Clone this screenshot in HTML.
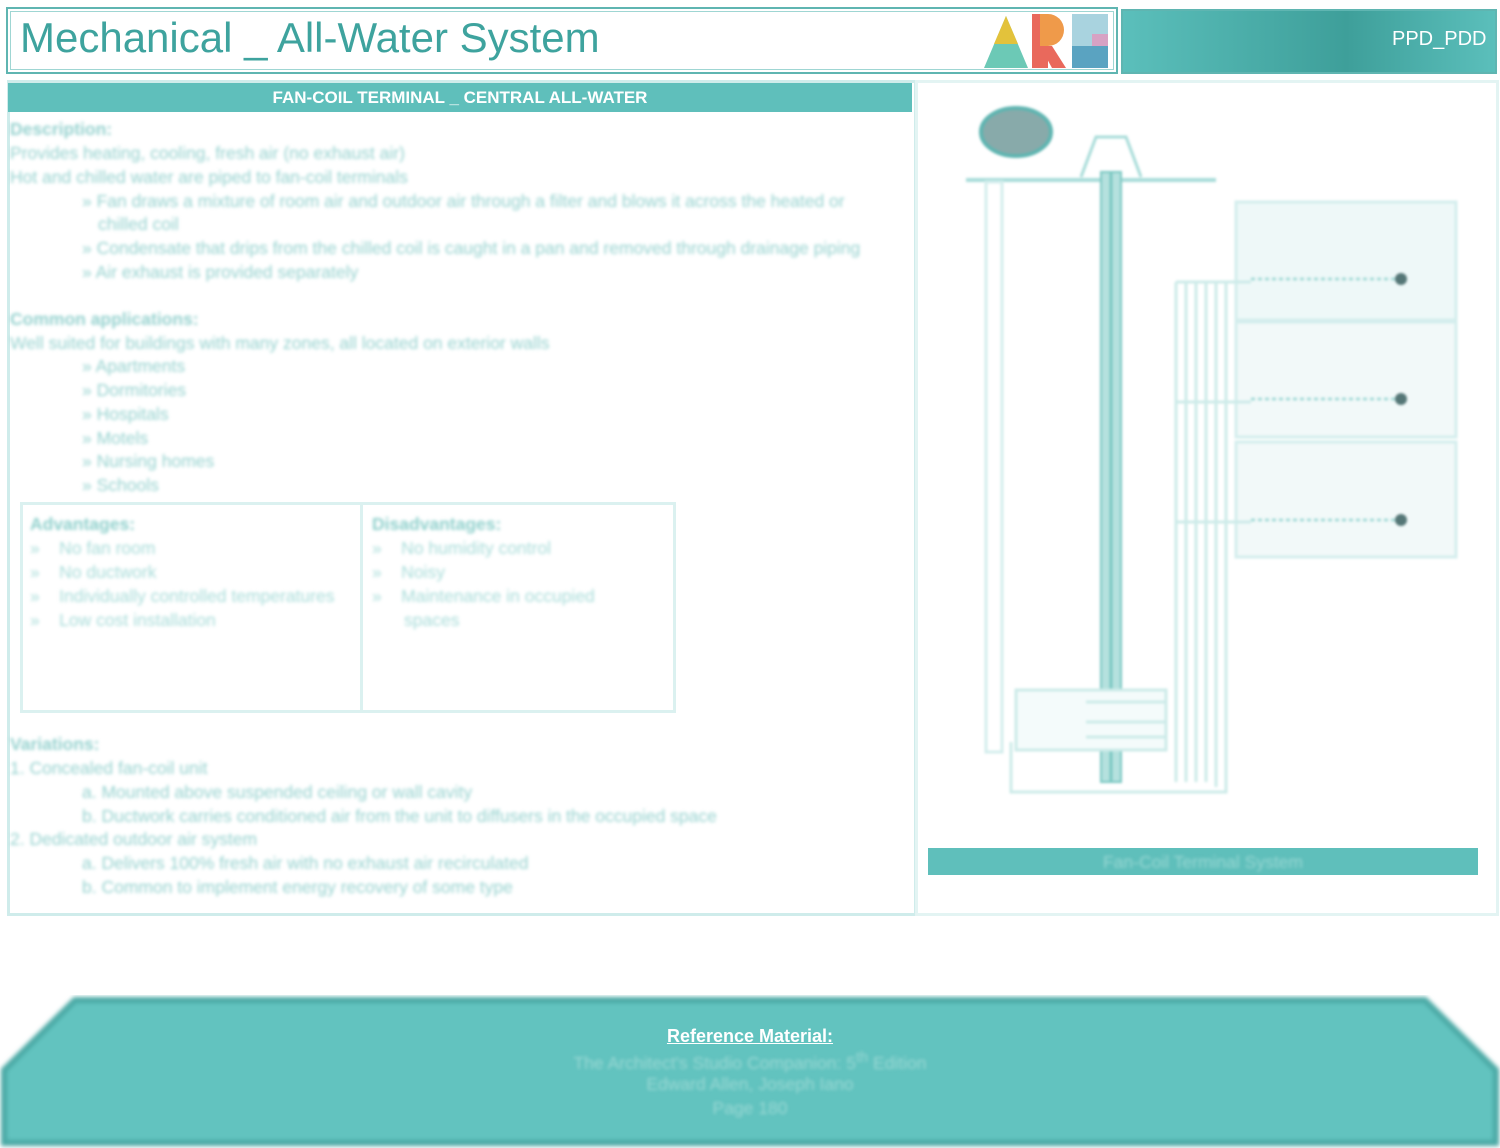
<!DOCTYPE html>
<html><head><meta charset="utf-8"><style>
body{margin:0;width:1500px;height:1148px;background:#fff;position:relative;overflow:hidden;font-family:"Liberation Sans",sans-serif}
.a{position:absolute}
.t{color:#96d2cf;font-size:17.5px;filter:blur(1.6px);position:absolute;white-space:nowrap}
.b{font-weight:bold}
</style></head><body>
<div class="a" style="left:6px;top:7px;width:1108px;height:63px;border:2px solid #5fb5b1;box-shadow:inset 0 0 0 2px #fff,inset 0 0 0 3px #9fd6d3"></div>
<div class="a" style="left:20px;top:14px;font-size:42px;color:#3ea39e">Mechanical _ All-Water System</div>
<svg class="a" style="left:980px;top:10px" width="135" height="60">
<polygon points="4,58 26,6 48,58" fill="#6cc9b6"/><polygon points="14,34 26,6 38,34" fill="#e3c23b"/>
<rect x="52" y="4" width="16" height="54" fill="#e9695c"/><path d="M60,4 h8 a16,16 0 0 1 0,32 h-8z" fill="#ef9a4a"/><polygon points="60,36 72,36 86,58 72,58" fill="#e9695c"/>
<rect x="92" y="4" width="36" height="54" fill="#a9d3df"/><rect x="92" y="36" width="36" height="22" fill="#5aa3c1"/><rect x="112" y="24" width="16" height="12" fill="#d7a2c4"/>
</svg>
<div class="a" style="left:1121px;top:9px;width:372px;height:61px;background:linear-gradient(90deg,#5bbfbb,#3e9f9a 60%,#5bbfbb);border:2px solid #5fb5b1"></div>
<div class="a" style="left:1392px;top:28px;color:#fff;font-size:20px">PPD_PDD</div>

<div class="a" style="left:7px;top:80px;width:904px;height:830px;border:3px solid #cfeceb"></div>
<div class="a" style="left:8px;top:83px;width:904px;height:29px;background:#5fbfbb"></div>
<div class="a" style="left:8px;top:88px;width:904px;text-align:center;color:#fff;font-weight:bold;font-size:17px">FAN-COIL TERMINAL _ CENTRAL ALL-WATER</div>

<div class="t b" style="left:10px;top:119px">Description:</div>
<div class="t" style="left:10px;top:143px">Provides heating, cooling, fresh air (no exhaust air)</div>
<div class="t" style="left:10px;top:167px">Hot and chilled water are piped to fan-coil terminals</div>
<div class="t" style="left:82px;top:191px">» Fan draws a mixture of room air and outdoor air through a filter and blows it across the heated or</div>
<div class="t" style="left:98px;top:214px">chilled coil</div>
<div class="t" style="left:82px;top:238px">» Condensate that drips from the chilled coil is caught in a pan and removed through drainage piping</div>
<div class="t" style="left:82px;top:262px">» Air exhaust is provided separately</div>
<div class="t b" style="left:10px;top:309px">Common applications:</div>
<div class="t" style="left:10px;top:333px">Well suited for buildings with many zones, all located on exterior walls</div>
<div class="t" style="left:82px;top:356px">» Apartments</div>
<div class="t" style="left:82px;top:380px">» Dormitories</div>
<div class="t" style="left:82px;top:404px">» Hospitals</div>
<div class="t" style="left:82px;top:428px">» Motels</div>
<div class="t" style="left:82px;top:451px">» Nursing homes</div>
<div class="t" style="left:82px;top:475px">» Schools</div>
<div class="a" style="left:20px;top:502px;width:650px;height:205px;border:3px solid #dbf1f0"></div>
<div class="a" style="left:360px;top:502px;width:3px;height:208px;background:#dbf1f0"></div>
<div class="t b" style="left:30px;top:514px;color:#8fd0cc">Advantages:</div>
<div class="t" style="left:30px;top:538px;color:#a8dcd9">»&nbsp;&nbsp;&nbsp;&nbsp;No fan room</div>
<div class="t" style="left:30px;top:562px;color:#a8dcd9">»&nbsp;&nbsp;&nbsp;&nbsp;No ductwork</div>
<div class="t" style="left:30px;top:586px;color:#a8dcd9">»&nbsp;&nbsp;&nbsp;&nbsp;Individually controlled temperatures</div>
<div class="t" style="left:30px;top:610px;color:#a8dcd9">»&nbsp;&nbsp;&nbsp;&nbsp;Low cost installation</div>
<div class="t b" style="left:372px;top:514px;color:#8fd0cc">Disadvantages:</div>
<div class="t" style="left:372px;top:538px;color:#a8dcd9">»&nbsp;&nbsp;&nbsp;&nbsp;No humidity control</div>
<div class="t" style="left:372px;top:562px;color:#a8dcd9">»&nbsp;&nbsp;&nbsp;&nbsp;Noisy</div>
<div class="t" style="left:372px;top:586px;color:#a8dcd9">»&nbsp;&nbsp;&nbsp;&nbsp;Maintenance in occupied</div>
<div class="t" style="left:404px;top:610px;color:#a8dcd9">spaces</div>
<div class="t b" style="left:10px;top:734px">Variations:</div>
<div class="t" style="left:10px;top:758px">1. Concealed fan-coil unit</div>
<div class="t" style="left:82px;top:782px">a. Mounted above suspended ceiling or wall cavity</div>
<div class="t" style="left:82px;top:806px">b. Ductwork carries conditioned air from the unit to diffusers in the occupied space</div>
<div class="t" style="left:10px;top:829px">2. Dedicated outdoor air system</div>
<div class="t" style="left:82px;top:853px">a. Delivers 100% fresh air with no exhaust air recirculated</div>
<div class="t" style="left:82px;top:877px">b. Common to implement energy recovery of some type</div>

<div class="a" style="left:915px;top:80px;width:578px;height:830px;border:3px solid #e3f4f3"></div>
<svg class="a" style="left:916px;top:82px;filter:blur(1.3px)" width="578" height="760">
<ellipse cx="100" cy="50" rx="35" ry="24" fill="#8aa" stroke="#5fb5b1" stroke-width="4"/>
<path d="M165,95 L180,55 L210,55 L225,95" fill="none" stroke="#a8dcd9" stroke-width="3"/>
<line x1="50" y1="98" x2="300" y2="98" stroke="#a8dcd9" stroke-width="4"/>
<rect x="185" y="90" width="20" height="610" fill="#b5e1de" stroke="#7cc8c3" stroke-width="2"/>
<line x1="195" y1="90" x2="195" y2="700" stroke="#7cc8c3" stroke-width="3"/>
<rect x="70" y="100" width="16" height="570" fill="none" stroke="#d4eeed" stroke-width="3"/>
<rect x="320" y="120" width="220" height="118" fill="#eef8f8" stroke="#d4eeed" stroke-width="3"/>
<rect x="320" y="240" width="220" height="115" fill="#f2f9f9" stroke="#d4eeed" stroke-width="3"/>
<rect x="320" y="360" width="220" height="115" fill="#f2f9f9" stroke="#d4eeed" stroke-width="3"/>
<line x1="335" y1="197" x2="485" y2="197" stroke="#a8dcd9" stroke-width="3" stroke-dasharray="4 3"/>
<line x1="335" y1="317" x2="485" y2="317" stroke="#a8dcd9" stroke-width="3" stroke-dasharray="4 3"/>
<line x1="335" y1="438" x2="485" y2="438" stroke="#a8dcd9" stroke-width="3" stroke-dasharray="4 3"/>
<circle cx="485" cy="197" r="6" fill="#577"/><circle cx="485" cy="317" r="6" fill="#577"/><circle cx="485" cy="438" r="6" fill="#577"/>
<g fill="none" stroke="#cdebe9" stroke-width="3">
<path d="M260,200 V700 M270,200 V700 M280,200 V700 M290,200 V700 M300,200 V705"/>
<path d="M260,200 H335 M260,320 H335 M260,440 H335"/>
<path d="M95,660 V710 H310 V200"/>
<rect x="100" y="608" width="150" height="60" fill="#f4fbfb"/>
<path d="M170,620 H250 M170,640 H250 M170,655 H250"/>
</g>
</svg>
<div class="a" style="left:928px;top:848px;width:550px;height:27px;background:#5fbfbb"></div>
<div class="t" style="left:928px;top:852px;width:550px;text-align:center;color:#9ad8d4">Fan-Coil Terminal System</div>

<svg class="a" style="left:0;top:995px" width="1500" height="153">
<polygon points="75,5 1425,5 1496,75 1496,148 4,148 4,75" fill="#62c3bf" stroke="#4aa9a5" stroke-width="6" style="filter:blur(2px)"/>
</svg>
<div class="a" style="left:0;top:1026px;width:1500px;text-align:center;color:#fff;font-weight:bold;font-size:18px;text-decoration:underline">Reference Material:</div>
<div class="t" style="left:0;top:1050px;width:1500px;text-align:center;color:#9ad8d4">The Architect's Studio Companion: 5<sup>th</sup> Edition</div>
<div class="t" style="left:0;top:1074px;width:1500px;text-align:center;color:#9ad8d4">Edward Allen, Joseph Iano</div>
<div class="t" style="left:0;top:1098px;width:1500px;text-align:center;color:#9ad8d4">Page 180</div>
</body></html>
